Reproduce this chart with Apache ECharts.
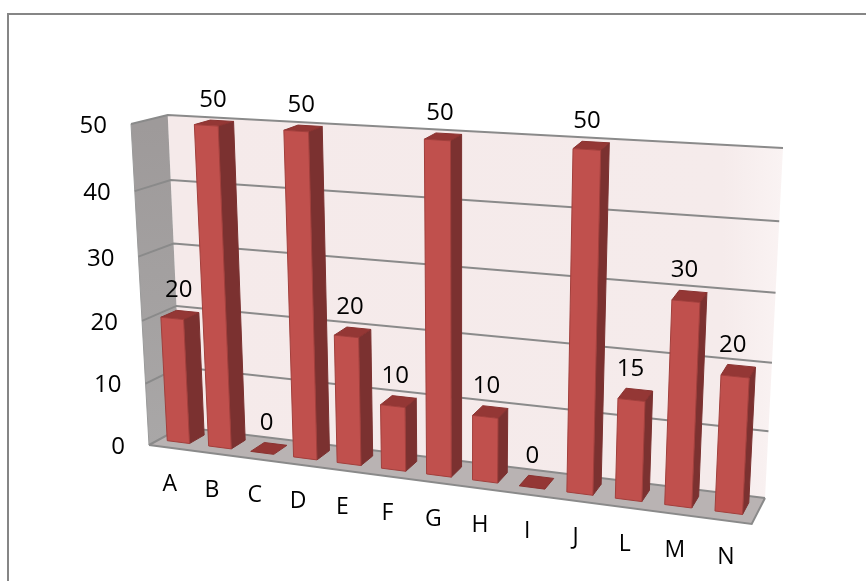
<!DOCTYPE html>
<html>
<head>
<meta charset="utf-8">
<style>
  html, body { margin: 0; padding: 0; background: #fff; }
  #chart { width: 866px; height: 581px; }
</style>
<script src="https://cdn.jsdelivr.net/npm/echarts@6/dist/echarts.min.js"></script>
</head>
<body>
<div id="chart"></div>
<script>
const categories = ['A', 'B', 'C', 'D', 'E', 'F', 'G', 'H', 'I', 'J', 'L', 'M', 'N'];
const values = [20, 50, 0, 50, 20, 10, 50, 10, 0, 50, 15, 30, 20];
const yTicks = [0, 10, 20, 30, 40, 50];

const FONT = '"Open Sans", sans-serif';

// Box corners of the 3D plot: bottom-left, bottom-right, top-right, top-left.
const BACK_PLANE = [[182, 427], [765, 498], [783, 148], [167.7, 115]];
const FRONT_PLANE = [[149, 445], [751.7, 524], [770, 167], [131, 124]];

// Depth of each column inside the box, 0 = front edge, 1 = back wall.
const BAR_FRONT = 0.30;
const BAR_BACK = 0.76;
const BAR_WIDTH = 0.54;
const BAR_SHIFT = -0.002;

// Perspective map from the unit square onto a quadrilateral.
function homography(q) {
  const [[x0, y0], [x1, y1], [x2, y2], [x3, y3]] = q;
  const dx1 = x1 - x2, dx2 = x3 - x2, sx = x0 - x1 + x2 - x3;
  const dy1 = y1 - y2, dy2 = y3 - y2, sy = y0 - y1 + y2 - y3;
  const den = dx1 * dy2 - dx2 * dy1;
  const g = (sx * dy2 - dx2 * sy) / den;
  const h = (dx1 * sy - sx * dy1) / den;
  const a = x1 - x0 + g * x1, b = x3 - x0 + h * x3;
  const d = y1 - y0 + g * y1, e = y3 - y0 + h * y3;
  return (u, v) => {
    const w = g * u + h * v + 1;
    return [(a * u + b * v + x0) / w, (d * u + e * v + y0) / w];
  };
}
const backMap = homography(BACK_PLANE);
const frontMap = homography(FRONT_PLANE);

// u across the categories, v up the value axis, t from front to back.
function project(u, v, t) {
  const f = frontMap(u, v), b = backMap(u, v);
  return [f[0] + (b[0] - f[0]) * t, f[1] + (b[1] - f[1]) * t];
}

// Reads flat axis positions from the cartesian system and normalises them.
function toUnit(api, params, cat, val) {
  const p = api.coord([cat, val]);
  const c = params.coordSys;
  return [(p[0] - c.x) / c.width, (c.y + c.height - p[1]) / c.height];
}

function poly(points, fill, stroke, lineWidth) {
  return {
    type: 'polygon',
    shape: { points },
    style: { fill, stroke: stroke || fill, lineWidth: lineWidth === undefined ? 1 : lineWidth }
  };
}

function renderWalls() {
  const wallStart = project(0, 0, 1), wallEnd = project(1, 0, 1);
  const wallFill = new echarts.graphic.LinearGradient(wallStart[0], 0, wallEnd[0] + 18, 0, [
    { offset: 0, color: '#f5eaea' },
    { offset: 0.9, color: '#f5ebeb' },
    { offset: 1, color: '#faf3f3' }
  ], true);
  const sideFill = new echarts.graphic.LinearGradient(0, project(0, 1, 0)[1], 0, project(0, 0, 0)[1], [
    { offset: 0, color: '#9e9a9a' },
    { offset: 1, color: '#a9a7a7' }
  ], true);
  return {
    type: 'group',
    children: [
      poly([project(0, 0, 1), project(1, 0, 1), project(1, 1, 1), project(0, 1, 1)], wallFill, 'none', 0),
      poly([project(0, 0, 0), project(0, 0, 1), project(0, 1, 1), project(0, 1, 0)], sideFill, 'none', 0),
      poly([project(0, 0, 0), project(1, 0, 0), project(1, 0, 1), project(0, 0, 1)], '#b9b3b3', 'none', 0),
      { type: 'polyline', shape: { points: [project(0, 1, 0), project(0, 0, 0)] },
        style: { fill: 'none', stroke: '#9a9a9a', lineWidth: 1 } },
      { type: 'polyline', shape: { points: [project(0, 0, 0), project(1, 0, 0), project(1, 0, 1)] },
        style: { fill: 'none', stroke: '#8a8a8a', lineWidth: 2 } }
    ]
  };
}

function renderGridLine(params, api) {
  const t = api.value(1);
  const v = toUnit(api, params, 0, t)[1];
  return {
    type: 'polyline',
    shape: { points: [project(0, v, 0), project(0, v, 1), project(1, v, 1)] },
    style: { fill: 'none', stroke: '#8a8a8a', lineWidth: 2 }
  };
}

function renderYLabel(params, api) {
  const val = api.value(1);
  const p = project(0, toUnit(api, params, 0, val)[1], 0);
  return {
    type: 'text',
    style: {
      x: p[0] - 24, y: p[1] + 2, text: String(val), align: 'right', verticalAlign: 'middle',
      font: '24px ' + FONT, fill: '#000'
    }
  };
}

function renderCategoryLabel(params, api) {
  const i = api.value(0);
  const u = toUnit(api, params, i, 0)[0];
  const p = project(u, 0, 0);
  return {
    type: 'text',
    style: {
      x: p[0], y: p[1] + 37, text: categories[i], align: 'center', verticalAlign: 'middle',
      font: '23px ' + FONT, fill: '#000'
    }
  };
}

function renderBar(params, api) {
  const i = api.value(0), val = api.value(1);
  const [uc, v] = toUnit(api, params, i, val);
  const half = api.size([1, 0])[0] / params.coordSys.width * BAR_WIDTH / 2;
  const u0 = uc - half + BAR_SHIFT, u1 = uc + half + BAR_SHIFT;
  const tf = BAR_FRONT, tb = BAR_BACK;
  const children = [];
  const top = poly([project(u0, v, tf), project(u1, v, tf), project(u1, v, tb), project(u0, v, tb)], '#943735', '#8a3230');
  if (val > 0) {
    children.push(poly([project(u1, 0, tf), project(u1, 0, tb), project(u1, v, tb), project(u1, v, tf)], '#7b3130', '#7b3130'));
    children.push(top);
    children.push(poly([project(u0, 0, tf), project(u1, 0, tf), project(u1, v, tf), project(u0, v, tf)], '#c0504d', '#a23f3c'));
  } else {
    children.push(top);
  }
  return { type: 'group', children };
}

function renderValueLabel(params, api) {
  const i = api.value(0), val = api.value(1);
  const [u, v] = toUnit(api, params, i, val);
  const p = project(u, v, BAR_BACK);
  return {
    type: 'text',
    style: {
      x: p[0] - 10, y: p[1] - 21, text: String(val), align: 'center', verticalAlign: 'middle',
      font: '24px ' + FONT, fill: '#000'
    }
  };
}

const barData = values.map((v, i) => [i, v]);
const tickData = yTicks.map(t => [0, t]);

const chart = echarts.init(document.getElementById('chart'), null, { renderer: 'canvas' });
chart.setOption({
  animation: false,
  backgroundColor: '#fff',
  grid: { left: 100, right: 100, top: 100, bottom: 100 },
  xAxis: { type: 'category', data: categories, show: false },
  yAxis: { type: 'value', min: 0, max: 50, interval: 10, show: false },
  graphic: [{
    type: 'polyline',
    silent: true,
    shape: { points: [[8, 581], [8, 14], [866, 14]] },
    style: { fill: 'none', stroke: '#868686', lineWidth: 2 }
  }],
  series: [
    { type: 'custom', silent: true, clip: false, z: 1, data: [[0, 0]], renderItem: renderWalls },
    { type: 'custom', silent: true, clip: false, z: 2, data: tickData, renderItem: renderGridLine },
    { type: 'custom', silent: true, clip: false, z: 3, data: barData, renderItem: renderBar },
    { type: 'custom', silent: true, clip: false, z: 4, data: barData, renderItem: renderValueLabel },
    { type: 'custom', silent: true, clip: false, z: 4, data: tickData, renderItem: renderYLabel },
    { type: 'custom', silent: true, clip: false, z: 4, data: barData, renderItem: renderCategoryLabel }
  ]
});
</script>
</body>
</html>
